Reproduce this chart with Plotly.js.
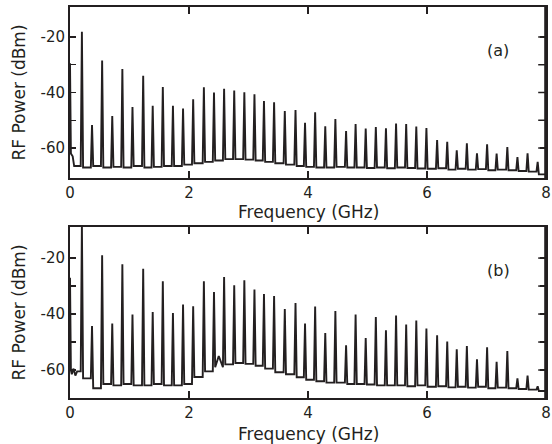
<!DOCTYPE html>
<html>
<head>
<meta charset="utf-8">
<script src="https://cdn.plot.ly/plotly-3.0.1.min.js"></script>
<style>
html,body{margin:0;padding:0;background:#fff;overflow:hidden;}
#chart{width:552px;height:444px;}
</style>
</head>
<body>
<div id="chart"></div>
<script>
// Peak (comb line) frequencies in GHz
const peakFreq = [0.20,0.37,0.54,0.71,0.88,1.05,1.23,1.39,1.56,1.73,
                  1.90,2.07,2.25,2.42,2.59,2.76,2.93,3.10,3.26,3.43,
                  3.61,3.79,3.95,4.12,4.29,4.46,4.64,4.80,4.97,5.14,
                  5.31,5.48,5.65,5.82,5.99,6.17,6.34,6.50,6.67,6.84,
                  7.01,7.17,7.35,7.52,7.69,7.86];

// Panel (a): peak powers (dBm)
const peakPowerA = [-18.1,-51.7,-28.5,-48.5,-31.5,-45.2,-34.0,-44.8,-38.0,-44.8,
                    -45.8,-42.4,-38.1,-40.0,-38.7,-39.3,-39.9,-40.6,-43.1,-43.5,
                    -46.7,-46.3,-50.9,-47.1,-52.2,-49.6,-53.9,-51.4,-53.0,-52.4,
                    -52.9,-51.2,-51.4,-52.3,-52.8,-57.1,-57.8,-60.8,-58.3,-61.9,
                    -58.7,-62.0,-59.7,-63.3,-61.9,-65.0];
// Panel (a): noise floor before first peak, between peaks, after last peak
const floorA = [-66.5,
                -67.0,-66.5,-67.0,-66.8,-67.0,-66.5,-67.0,-66.8,-66.5,-66.5,
                -66.0,-65.5,-65.0,-64.5,-64.0,-64.0,-64.2,-64.5,-65.0,-65.5,
                -66.0,-66.5,-66.8,-67.0,-67.0,-66.8,-67.0,-67.0,-67.2,-67.0,
                -67.3,-67.0,-67.2,-67.4,-67.5,-67.3,-67.8,-67.5,-67.8,-67.6,
                -68.0,-67.8,-68.0,-68.3,-68.5,
                -69.5];
const startFreqA = [0.0, 0.015, 0.045, 0.07];
const startPowerA = [-29.5, -62.0, -63.0, -66.5];
const endPowerA = -69.5;

// Panel (b): peak powers (dBm)
const peakPowerB = [-8.0,-44.3,-19.0,-43.4,-22.2,-40.2,-23.8,-39.3,-28.3,-39.6,
                    -36.6,-37.2,-28.3,-32.1,-26.8,-29.7,-27.9,-31.2,-32.8,-33.6,
                    -38.2,-36.1,-43.4,-37.3,-46.8,-38.9,-51.2,-40.2,-48.6,-41.1,
                    -45.8,-40.5,-43.7,-42.3,-45.2,-47.6,-49.8,-52.6,-51.4,-56.2,
                    -51.9,-57.1,-53.2,-63.0,-62.0,-65.8];
const floorB = [-60.5,
                -63.0,-66.5,-65.0,-65.5,-65.0,-65.5,-65.5,-65.0,-65.5,-65.5,
                -65.0,-62.5,-60.5,-59.0,-58.0,-57.5,-57.8,-58.5,-59.5,-60.8,
                -61.5,-62.6,-63.5,-64.0,-64.5,-64.5,-65.0,-65.0,-65.2,-65.5,
                -65.5,-65.5,-65.8,-65.5,-66.0,-65.8,-66.2,-66.0,-66.3,-66.0,
                -66.5,-66.3,-66.5,-66.8,-67.0,
                -67.5];
const startFreqB = [0.0, 0.015, 0.03, 0.06, 0.09, 0.12];
const startPowerB = [-27.0, -60.0, -61.5, -59.5, -62.0, -60.5];
const endPowerB = -67.5;
// small extra feature on the floor
const bumpFreqB = [2.50];
const bumpPowerB = [-55.0];

const yTickVals = [-60,-50,-40,-30,-20];
const yTickText = ['-60','','-40','','-20'];
const xTickVals = [0,2,4,6,8];

const HALF = 0.02;

function buildTrace(sf, sp, pf, pp, fl, endP, bf, bp){
  const pts = [];
  for(let i=0;i<sf.length;i++) pts.push([sf[i], sp[i]]);
  for(let i=0;i<pf.length;i++){
    pts.push([pf[i]-HALF, fl[i]]);
    pts.push([pf[i], pp[i]]);
    pts.push([pf[i]+HALF, fl[i+1]]);
  }
  if(bf){ for(let i=0;i<bf.length;i++) pts.push([bf[i], bp[i]]); }
  pts.push([8.0, endP]);
  pts.sort((a,b)=>a[0]-b[0]);
  return {x:pts.map(p=>p[0]), y:pts.map(p=>p[1])};
}

const A = buildTrace(startFreqA, startPowerA, peakFreq, peakPowerA, floorA, endPowerA);
const B = buildTrace(startFreqB, startPowerB, peakFreq, peakPowerB, floorB, endPowerB, bumpFreqB, bumpPowerB);

const INK = '#231f20';
const lineStyle = {color:INK, width:1.9};
const traces = [
  {x:A.x, y:A.y, type:'scatter', mode:'lines', line:lineStyle, xaxis:'x', yaxis:'y', hoverinfo:'skip'},
  {x:B.x, y:B.y, type:'scatter', mode:'lines', line:lineStyle, xaxis:'x2', yaxis:'y2', hoverinfo:'skip'}
];

const FONT = 'DejaVu Sans, sans-serif';
function xax(anchor){
  return {anchor:anchor, domain:[0,1], range:[0,8], tickvals:xTickVals,
    ticks:'inside', ticklen:7, tickwidth:1.5, tickcolor:INK,
    showline:true, linewidth:2, linecolor:INK, mirror:'ticks',
    showgrid:false, zeroline:false, ticklabeloverflow:'allow',
    tickfont:{family:FONT, size:15, color:INK}};
}
function yax(anchor, dom, rng){
  return {anchor:anchor, domain:dom, range:rng, tickvals:yTickVals, ticktext:yTickText,
    ticks:'inside', ticklen:6, tickwidth:1.5, tickcolor:INK,
    showline:true, linewidth:2, linecolor:INK, mirror:'ticks',
    showgrid:false, zeroline:false,
    tickfont:{family:FONT, size:15, color:INK},
    title:{text:'RF Power (dBm)', font:{family:FONT, size:17, color:INK}}};
}

const rangeA = [-70.8,-9.2];
const rangeB = [-70,-8.9];
const domA = [0.5627, 1];
const domB = [0, 0.4373];
const PLOTW = 552 - 70 - 6;
const XR = 1 - 0.8/PLOTW;

// right-hand frame and inward ticks drawn in paper coordinates (not clipped)
const shapes = [];
[[domA,'y'],[domB,'y2']].forEach(([dom, yr])=>{
  shapes.push({type:'line', xref:'paper', yref:'paper', x0:XR, x1:XR, y0:dom[0], y1:dom[1],
               line:{color:INK, width:2}, layer:'above'});
  yTickVals.forEach(v=>{
    shapes.push({type:'line', xref:'paper', yref:yr, x0:XR, x1:XR-7/PLOTW, y0:v, y1:v,
                 line:{color:INK, width:1.5}, layer:'above'});
  });
});

const layout = {
  width:552, height:444,
  margin:{l:70, r:6, t:7, b:46},
  paper_bgcolor:'#ffffff', plot_bgcolor:'#ffffff',
  showlegend:false,
  xaxis:xax('y'),
  yaxis:yax('x', domA, rangeA),
  xaxis2:xax('y2'),
  yaxis2:yax('x2', domB, rangeB),
  shapes:shapes,
  annotations:[
    {text:'(a)', xref:'x', yref:'y', x:7.2, y:-25, showarrow:false, font:{family:FONT,size:16,color:INK}},
    {text:'(b)', xref:'x2', yref:'y2', x:7.2, y:-24.5, showarrow:false, font:{family:FONT,size:16,color:INK}},
    {text:'Frequency (GHz)', xref:'paper', yref:'paper', x:0.5, y:0.4757, xanchor:'center', yanchor:'middle', showarrow:false, font:{family:FONT,size:17,color:INK}},
    {text:'Frequency (GHz)', xref:'paper', yref:'paper', x:0.5, y:-0.092, xanchor:'center', yanchor:'middle', showarrow:false, font:{family:FONT,size:17,color:INK}}
  ]
};

Plotly.newPlot('chart', traces, layout, {displayModeBar:false, staticPlot:true});
</script>
</body>
</html>
